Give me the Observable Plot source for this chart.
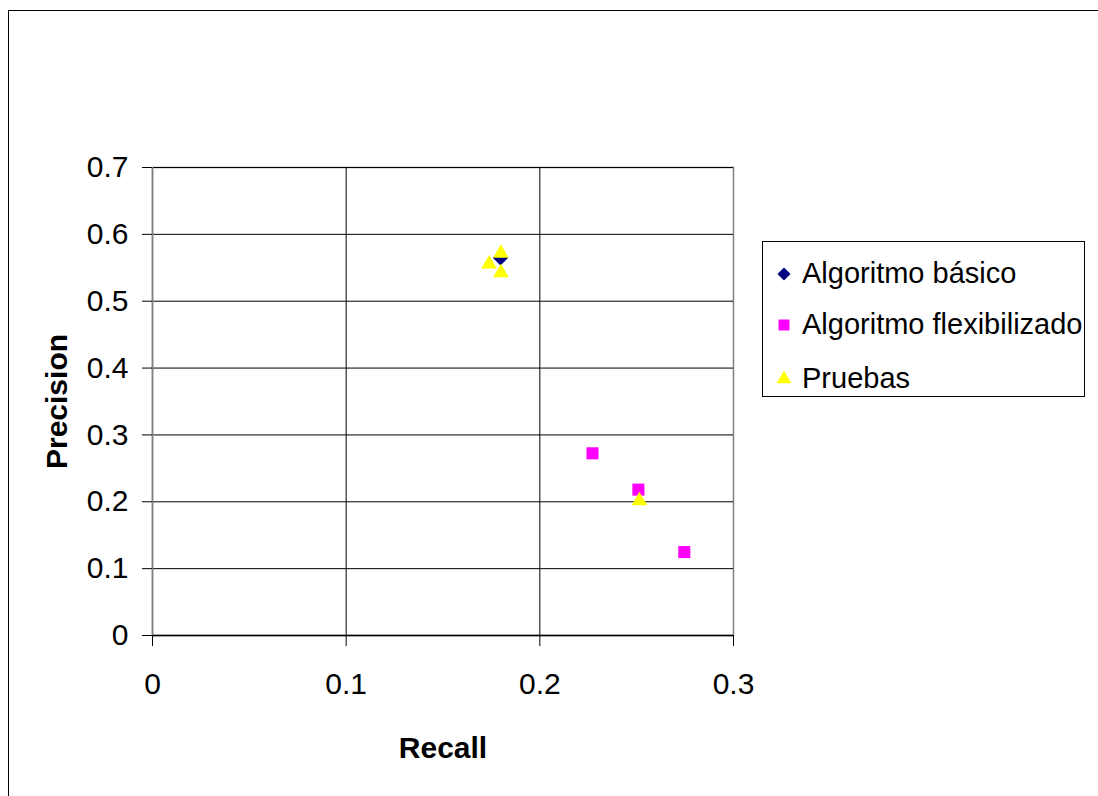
<!DOCTYPE html>
<html><head><meta charset="utf-8">
<script src="https://cdn.jsdelivr.net/npm/d3@7"></script>
<script src="https://cdn.jsdelivr.net/npm/@observablehq/plot@0.6"></script>
<style>
body{margin:0;background:#fff;font-family:"Liberation Sans",Arial,sans-serif;}
#wrap{position:relative;width:1098px;height:796px;overflow:hidden;background:#fff;}
#chart{position:absolute;left:0;top:0;}
#border{position:absolute;left:8px;top:10px;width:1200px;height:900px;border:1px solid #000;pointer-events:none;}
#legend{position:absolute;left:762px;top:241px;width:321px;height:154px;border:1px solid #000;background:#fff;}
.row{position:absolute;left:0;height:40px;width:320px;}
.row svg{position:absolute;left:11px;top:10px;}
.row span{position:absolute;left:39px;top:0;line-height:40px;font-size:29px;color:#000;white-space:nowrap;}
</style></head>
<body>
<div id="wrap">
  <div id="chart"></div>
  <div id="border"></div>
  <div id="legend"></div>
</div>
<script>
// Series names
const seriesNames = ["Algoritmo básico", "Algoritmo flexibilizado", "Pruebas"];
// Algoritmo básico
const basicRecall = [0.1797];
const basicPrecision = [0.565];
// Algoritmo flexibilizado
const flexRecall = [0.2272, 0.2509, 0.2746];
const flexPrecision = [0.2725, 0.2182, 0.1248];
// Pruebas
const testRecall = [0.1799, 0.1738, 0.1799, 0.2514];
const testPrecision = [0.5716, 0.5555, 0.5425, 0.2016];
// Ticks
const xTicks = [0, 0.1, 0.2, 0.3];
const yTicks = [0, 0.1, 0.2, 0.3, 0.4, 0.5, 0.6, 0.7];
const xLabel = "Recall";
const yLabel = "Precision";

const toRows = (xs, ys, s) => xs.map((x, i) => ({recall: x, precision: ys[i], series: s}));
const basic = toRows(basicRecall, basicPrecision, seriesNames[0]);
const flex = toRows(flexRecall, flexPrecision, seriesNames[1]);
const tests = toRows(testRecall, testPrecision, seriesNames[2]);

const colors = ["#000080", "#FF00FF", "#FFFF00"];
const symbols = ["diamond2", "square", "triangle"];

const chart = Plot.plot({
  width: 1098,
  height: 796,
  marginLeft: 152,
  marginRight: 365,
  marginTop: 167,
  marginBottom: 161,
  style: {fontFamily: "Liberation Sans, Arial, sans-serif", fontSize: "29px", background: "transparent", color: "#000", overflow: "visible"},
  x: {domain: [0, 0.3]},
  y: {domain: [0, 0.7]},
  marks: [
    Plot.frame({stroke: "#808080", strokeWidth: 1.5}),
    Plot.ruleY(yTicks.filter(d => d > 0), {stroke: "#000", strokeWidth: 1}),
    Plot.ruleX(xTicks.filter(d => d > 0 && d < 0.3), {stroke: "#000", strokeWidth: 1}),
    Plot.ruleY([0], {stroke: "#000", strokeWidth: 1.5}),
    Plot.ruleX([0], {stroke: "#808080", strokeWidth: 1.5}),
    Plot.axisY({ticks: yTicks, tickSize: 10, tickPadding: 14, label: null, fontSize: 30, tickFormat: d => String(d)}),
    Plot.axisX({ticks: xTicks, tickSize: 11, tickPadding: 26, label: null, fontSize: 30, tickFormat: d => String(d)}),
    Plot.dot(basic, {x: "recall", y: "precision", symbol: "diamond2", fill: colors[0], r: 7}),
    Plot.dot(flex, {x: "recall", y: "precision", symbol: "square", fill: colors[1], r: 6.8}),
    Plot.dot(tests, {x: "recall", y: "precision", symbol: "triangle", fill: colors[2], r: 5.8}),
    Plot.text([xLabel], {text: d => d, frameAnchor: "bottom", lineAnchor: "middle", textAnchor: "middle", dy: 113, fontSize: 30, fontWeight: "bold"}),
    Plot.text([yLabel], {text: d => d, frameAnchor: "left", textAnchor: "middle", lineAnchor: "middle", dx: -95, rotate: -90, fontSize: 30, fontWeight: "bold"})
  ]
});
document.getElementById("chart").appendChild(chart);

// Legend
const legend = document.getElementById("legend");
const rowTops = [11, 62, 116];
seriesNames.forEach((name, i) => {
  const row = document.createElement("div");
  row.className = "row";
  row.style.top = rowTops[i] + "px";
  const sym = {diamond2: d3.symbolDiamond2, square: d3.symbolSquare, triangle: d3.symbolTriangle}[symbols[i]];
  const size = symbols[i] === "square" ? 120 : symbols[i] === "triangle" ? 95 : 110;
  const svg = d3.create("svg").attr("width", 20).attr("height", 20);
  svg.append("path").attr("transform", "translate(10,11)").attr("d", d3.symbol(sym, size)()).attr("fill", colors[i]);
  row.appendChild(svg.node());
  const span = document.createElement("span");
  span.textContent = name;
  row.appendChild(span);
  legend.appendChild(row);
});
</script>
</body></html>
